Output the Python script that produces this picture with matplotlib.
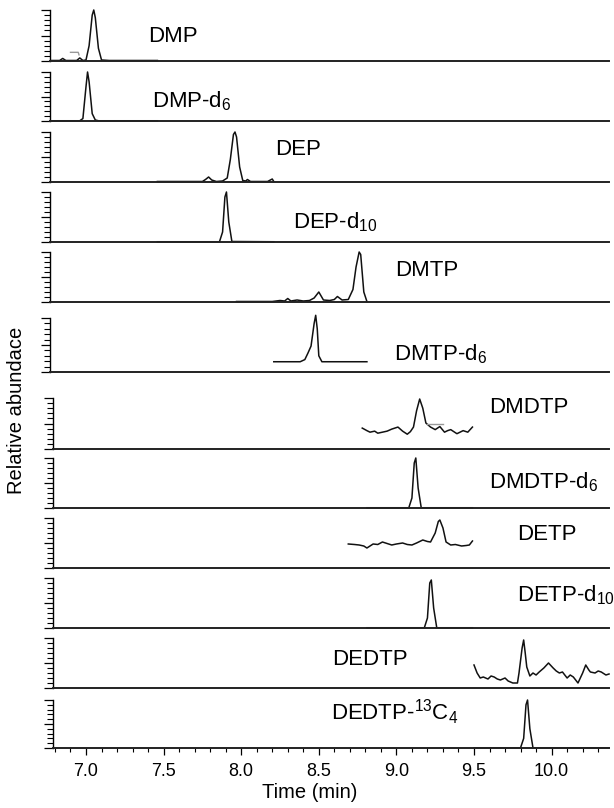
import matplotlib
matplotlib.use('Agg')
from matplotlib import pyplot as plt
from matplotlib.ticker import MultipleLocator, NullFormatter

plt.rcParams['font.family'] = ['Liberation Sans', 'DejaVu Sans']
plt.rcParams['mathtext.fontset'] = 'custom'
plt.rcParams['mathtext.rm'] = 'Liberation Sans'
plt.rcParams['mathtext.it'] = 'Liberation Sans:italic'

W, H = 614, 808

names = ['DMP', 'DMP-d$_6$', 'DEP', 'DEP-d$_{10}$', 'DMTP', 'DMTP-d$_6$',
         'DMDTP', 'DMDTP-d$_6$', 'DETP', 'DETP-d$_{10}$', 'DEDTP',
         'DEDTP-$^{13}$C$_4$']

# traces: retention time (min) and relative abundance (% of panel height)
dmp_t = [6.78, 6.83, 6.85, 6.87, 6.94, 6.96, 6.98, 7.00, 7.02, 7.04, 7.05, 7.06, 7.08, 7.10, 7.15, 7.46]
dmp_y = [1, 1, 5, 1, 1, 6, 1, 2, 30, 90, 100, 85, 25, 2, 1, 1]
dmp_d6_t = [6.78, 6.96, 6.98, 7.00, 7.01, 7.02, 7.04, 7.06, 7.08, 7.46]
dmp_d6_y = [0.5, 0.5, 5, 70, 100, 80, 15, 2, 0.5, 0.5]
dep_t = [7.46, 7.75, 7.77, 7.79, 7.81, 7.84, 7.88, 7.91, 7.93, 7.95, 7.96, 7.97, 7.99, 8.01, 8.03, 8.04, 8.06, 8.17, 8.20, 8.21]
dep_y = [1, 1, 5, 10, 4, 1, 2, 8, 45, 95, 100, 90, 30, 3, 2, 5, 1, 1, 6, 1]
dep_d10_t = [7.46, 7.86, 7.88, 7.895, 7.905, 7.92, 7.94, 8.21]
dep_d10_y = [0.5, 0.5, 20, 90, 100, 40, 1, 0.5]
dmtp_t = [7.97, 8.20, 8.25, 8.28, 8.30, 8.32, 8.36, 8.40, 8.44, 8.47, 8.50, 8.53, 8.57, 8.60, 8.62, 8.65, 8.69, 8.72, 8.74, 8.76, 8.77, 8.79, 8.81]
dmtp_y = [1, 1, 3, 2, 7, 2, 4, 2, 3, 8, 20, 4, 3, 5, 11, 4, 5, 25, 70, 100, 95, 20, 1]
dmtp_d6_t = [8.21, 8.38, 8.41, 8.43, 8.45, 8.47, 8.48, 8.49, 8.50, 8.52, 8.81]
dmtp_d6_y = [19, 19, 23, 35, 48, 90, 105, 80, 30, 19, 19]
dmdtp_t = [8.78, 8.81, 8.83, 8.86, 8.88, 8.91, 8.94, 8.97, 9.01, 9.04, 9.07, 9.09, 9.11, 9.13, 9.15, 9.17,
           9.19, 9.22, 9.25, 9.28, 9.31, 9.33, 9.35, 9.37, 9.39, 9.41, 9.43, 9.46, 9.49]
dmdtp_y = [41, 36, 33, 35, 31, 33, 35, 39, 43, 35, 29, 34, 43, 75, 98, 80,
           51, 43, 38, 44, 33, 36, 38, 34, 30, 33, 36, 33, 43]
dmdtp_d6_t = [8.81, 9.08, 9.10, 9.115, 9.125, 9.14, 9.16, 9.49]
dmdtp_d6_y = [0.5, 0.5, 20, 90, 100, 40, 0.5, 0.5]
detp_t = [8.69, 8.73, 8.76, 8.79, 8.81, 8.85, 8.88, 8.91, 8.94, 8.97, 9.00, 9.04, 9.07, 9.10, 9.13, 9.17,
          9.20, 9.22, 9.25, 9.27, 9.28, 9.30, 9.32, 9.35, 9.38, 9.42, 9.45, 9.47, 9.49]
detp_y = [48, 47, 46, 44, 40, 48, 47, 52, 49, 46, 48, 50, 47, 46, 50, 56,
          53, 52, 70, 93, 96, 80, 52, 46, 47, 44, 45, 46, 54]
detp_d10_t = [8.81, 9.18, 9.20, 9.215, 9.225, 9.24, 9.26, 9.49]
detp_d10_y = [0.5, 0.5, 20, 90, 96, 40, 0.5, 0.5]
dedtp_t = [9.50, 9.51, 9.52, 9.54, 9.56, 9.59, 9.61, 9.63, 9.65, 9.67, 9.70, 9.72, 9.75, 9.78, 9.79, 9.81, 9.82,
           9.83, 9.84, 9.86, 9.88, 9.90, 9.92, 9.95, 9.98, 10.01, 10.03, 10.05, 10.07, 10.10, 10.12, 10.14,
           10.17, 10.20, 10.22, 10.24, 10.25, 10.28, 10.30, 10.32, 10.35, 10.37]
dedtp_y = [46, 38, 30, 20, 22, 18, 24, 22, 18, 16, 20, 14, 10, 10, 30, 80, 96,
           70, 42, 24, 30, 26, 32, 40, 50, 40, 34, 30, 32, 20, 26, 22,
           10, 30, 46, 36, 32, 30, 34, 32, 26, 28]
dedtp_c13_t = [9.50, 9.80, 9.82, 9.835, 9.845, 9.86, 9.88, 10.37]
dedtp_c13_y = [0.5, 0.5, 20, 90, 100, 40, 0.5, 0.5]

traces = [(dmp_t, dmp_y), (dmp_d6_t, dmp_d6_y), (dep_t, dep_y), (dep_d10_t, dep_d10_y),
          (dmtp_t, dmtp_y), (dmtp_d6_t, dmtp_d6_y), (dmdtp_t, dmdtp_y), (dmdtp_d6_t, dmdtp_d6_y),
          (detp_t, detp_y), (detp_d10_t, detp_d10_y), (dedtp_t, dedtp_y), (dedtp_c13_t, dedtp_c13_y)]

# faint grey smoothing fragments
grey_bits = {0: ([6.90, 6.95, 6.955], [17, 17, 12]), 6: ([9.20, 9.30], [49, 49])}

xticks = [7.0, 7.5, 8.0, 8.5, 9.0, 9.5, 10.0]
xlabels = ['7.0', '7.5', '8.0', '8.5', '9.0', '9.5', '10.0']

# layout in pixels
tops = [10, 72, 132, 192, 252, 318, 398, 458, 518, 578, 638, 700]
bases = [61, 121, 182, 242, 302, 372, 449, 508, 568, 628, 688, 748]
label_pos = [(148, 42), (152, 107), (275, 155), (293, 228), (395, 276), (394, 360),
             (489, 413), (489, 488), (517, 540), (517, 601), (332, 665), (331, 720)]
right = 609
px_per_min = 155.2
x7_px = 86  # pixel column of 7.0 min

fig = plt.figure(figsize=(W / 100, H / 100), dpi=100)

for i in range(12):
    left = 50 if i < 6 else 53
    x0 = 7.0 - (x7_px - left) / px_per_min
    x1 = 7.0 + (right - x7_px) / px_per_min
    ax = fig.add_axes([left / W, 1 - bases[i] / H, (right - left) / W, (bases[i] - tops[i]) / H])
    t, y = traces[i]
    ax.plot(t, y, color='#111111', lw=1.1, clip_on=False)
    if i in grey_bits:
        gt, gy = grey_bits[i]
        ax.plot(gt, gy, color='#999999', lw=1.0)
    ax.set_xlim(x0, x1)
    ax.set_ylim(0, 100)
    for s in ['top', 'right']:
        ax.spines[s].set_visible(False)
    ax.spines['left'].set_linewidth(1.0)
    ax.spines['bottom'].set_linewidth(1.4)
    ax.spines['bottom'].set_color('#222222')
    ax.set_yticks([0, 50, 100])
    ax.yaxis.set_minor_locator(MultipleLocator(10))
    ax.yaxis.set_major_formatter(NullFormatter())
    ax.tick_params(axis='y', which='major', direction='out', length=6.5, width=0.9)
    ax.tick_params(axis='y', which='minor', direction='out', length=4.5, width=0.8)
    ax.patch.set_visible(False)
    if i < 11:
        ax.set_xticks([])
    else:
        ax.set_xticks(xticks)
        ax.set_xticklabels(xlabels, fontsize=13)
        ax.xaxis.set_minor_locator(MultipleLocator(0.1))
        ax.tick_params(axis='x', which='major', direction='out', length=5, width=0.9, pad=6)
        ax.tick_params(axis='x', which='minor', direction='out', length=3, width=0.8)
    lx, ly = label_pos[i]
    fig.text(lx / W, 1 - ly / H, names[i], fontsize=16, ha='left', va='baseline')

fig.text(310 / W, 1 - 792 / H, 'Time (min)', fontsize=14.5, ha='center', va='center')
fig.text(17 / W, 1 - 410 / H, 'Relative abundace', fontsize=14.5, rotation=90,
         ha='center', va='center')

fig.savefig('out.png', dpi=100)
